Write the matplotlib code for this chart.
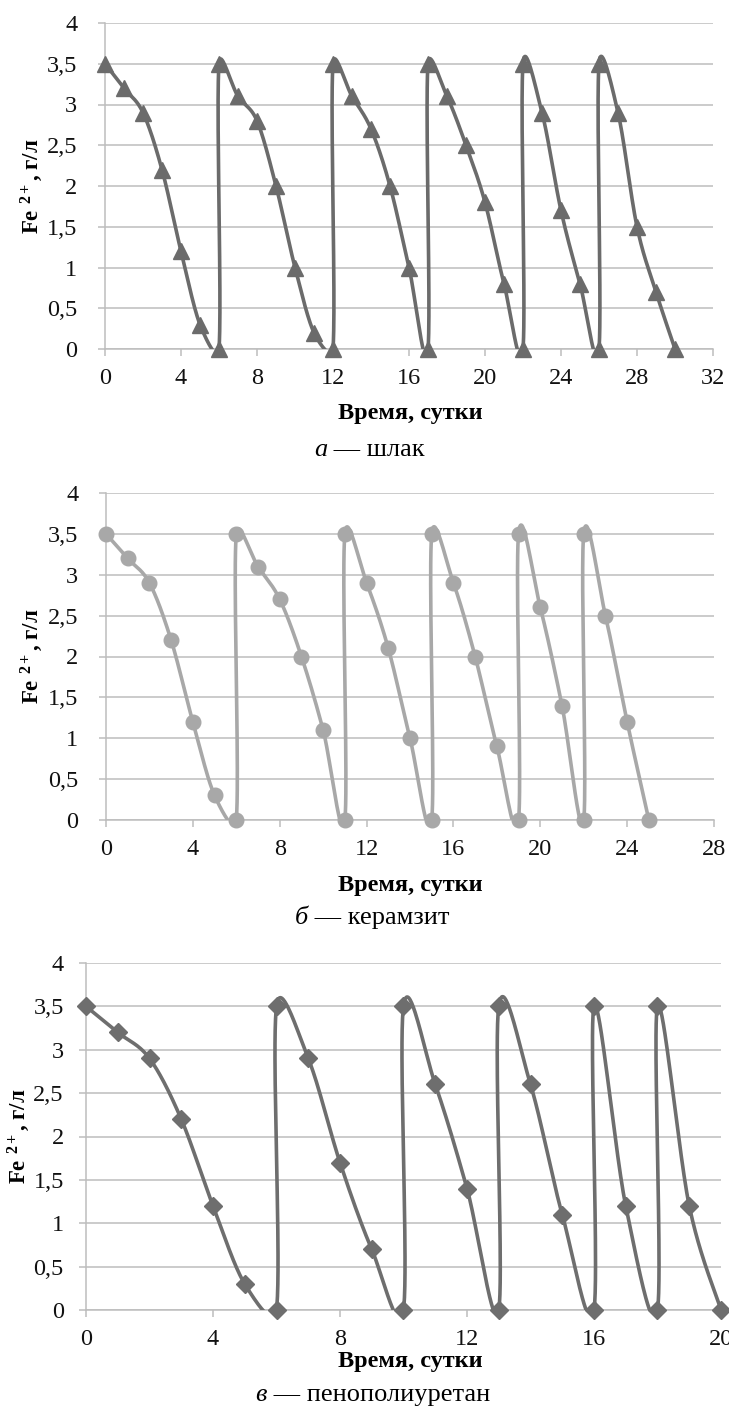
import numpy as np
import matplotlib
matplotlib.use("Agg")
import matplotlib.pyplot as plt

plt.rcParams['font.family'] = ['Liberation Serif', 'DejaVu Serif']
plt.rcParams['mathtext.fontset'] = 'custom'
plt.rcParams['mathtext.rm'] = 'Liberation Serif:bold'
plt.rcParams['mathtext.it'] = 'Liberation Serif:bold'
plt.rcParams['mathtext.bf'] = 'Liberation Serif:bold'

# ---- data ----
slag_days = [0, 1, 2, 3, 4, 5, 6, 6, 7, 8, 9, 10, 11, 12, 12, 13, 14, 15, 16, 17,
             17, 18, 19, 20, 21, 22, 22, 23, 24, 25, 26, 26, 27, 28, 29, 30]
slag_fe = [3.5, 3.2, 2.9, 2.2, 1.2, 0.3, 0, 3.5, 3.1, 2.8, 2.0, 1.0, 0.2, 0,
           3.5, 3.1, 2.7, 2.0, 1.0, 0, 3.5, 3.1, 2.5, 1.8, 0.8, 0,
           3.5, 2.9, 1.7, 0.8, 0, 3.5, 2.9, 1.5, 0.7, 0]

keramzit_days = [0, 1, 2, 3, 4, 5, 6, 6, 7, 8, 9, 10, 11, 11, 12, 13, 14, 15,
                 15, 16, 17, 18, 19, 19, 20, 21, 22, 22, 23, 24, 25]
keramzit_fe = [3.5, 3.2, 2.9, 2.2, 1.2, 0.3, 0, 3.5, 3.1, 2.7, 2.0, 1.1, 0,
               3.5, 2.9, 2.1, 1.0, 0, 3.5, 2.9, 2.0, 0.9, 0, 3.5, 2.6, 1.4, 0,
               3.5, 2.5, 1.2, 0]

ppu_days = [0, 1, 2, 3, 4, 5, 6, 6, 7, 8, 9, 10, 10, 11, 12, 13, 13, 14, 15, 16,
            16, 17, 18, 18, 19, 20]
ppu_fe = [3.5, 3.2, 2.9, 2.2, 1.2, 0.3, 0, 3.5, 2.9, 1.7, 0.7, 0, 3.5, 2.6, 1.4, 0,
          3.5, 2.6, 1.1, 0, 3.5, 1.2, 0, 3.5, 1.2, 0]

y_ticks = [0, 0.5, 1, 1.5, 2, 2.5, 3, 3.5, 4]
y_tick_labels = ['0', '0,5', '1', '1,5', '2', '2,5', '3', '3,5', '4']
xlabel_text = 'Время, сутки'
ylabel_text = r'Fe $^{2+}$, г/л'
captions = [('а', ' — шлак'), ('б', ' — керамзит'), ('в', ' — пенополиуретан')]


def smooth(x, y, sx, sy, n=40, limit=0.5):
    """Excel-like smoothed line: Catmull-Rom Bezier computed in pixel space,
    with control arms limited relative to the segment length."""
    P = np.column_stack([np.asarray(x, float) * sx, np.asarray(y, float) * sy])
    out = [P[0]]
    t = np.linspace(0, 1, n)[1:, None]
    for i in range(len(P) - 1):
        p0 = P[i - 1] if i > 0 else P[i]
        p1, p2 = P[i], P[i + 1]
        p3 = P[i + 2] if i + 2 < len(P) else P[i + 1]
        seglen = np.hypot(*(p2 - p1))
        a1 = (p2 - p0) / 6.0
        a2 = (p3 - p1) / 6.0
        for a in (a1, a2):
            L = np.hypot(*a)
            if L > limit * seglen and L > 0:
                a *= limit * seglen / L
        c1 = p1 + a1
        c2 = p2 - a2
        seg = ((1 - t) ** 3) * p1 + 3 * ((1 - t) ** 2) * t * c1 + 3 * (1 - t) * t ** 2 * c2 + t ** 3 * p2
        out.extend(seg)
    out = np.array(out)
    return out[:, 0] / sx, out[:, 1] / sy


W, H = 729, 1407
fig = plt.figure(figsize=(W / 100, H / 100), dpi=100)


def fx(px):
    return px / W


def fy(py):
    return 1 - py / H


panels = [
    dict(days=slag_days, fe=slag_fe, color='#6b6b6b', marker='^', ms=11.5,
         box=(105, 23, 713, 349), xmax=32, xlab_y=413, cap_y=450, cap_x=327,
         ylab_x=32, ypad=15),
    dict(days=keramzit_days, fe=keramzit_fe, color='#a8a8a8', marker='o', ms=10.5,
         box=(106, 493, 714, 820), xmax=28, xlab_y=885, cap_y=918, cap_x=308,
         ylab_x=32, ypad=15),
    dict(days=ppu_days, fe=ppu_fe, color='#6e6e6e', marker='D', ms=9.5,
         box=(86, 963, 721, 1310), xmax=20, xlab_y=1362, cap_y=1395, cap_x=267,
         ylab_x=19, ypad=11),
]

grid_c = '#bdbdbd'
for i, p in enumerate(panels):
    l, t, r, b = p['box']
    ax = fig.add_axes([fx(l), fy(b), fx(r - l), fy(t) - fy(b)])
    sx = (r - l) / p['xmax']
    sy = (b - t) / 4.0
    xs, ys = smooth(p['days'], p['fe'], sx, sy)
    ax.plot(xs, ys, color=p['color'], lw=2.6, clip_on=True, zorder=3)
    ax.plot(p['days'], p['fe'], linestyle='none', marker=p['marker'], ms=p['ms'],
            color=p['color'], clip_on=False, zorder=4)
    ax.set_xlim(0, p['xmax'])
    ax.set_ylim(0, 4)
    ax.set_xticks(np.arange(0, p['xmax'] + 1, 4))
    ax.set_yticks(y_ticks)
    ax.set_yticklabels(y_tick_labels)
    ax.grid(axis='y', color=grid_c, lw=1.1)
    ax.set_axisbelow(True)
    for s in ['top', 'right']:
        ax.spines[s].set_visible(False)
    for s in ['left', 'bottom']:
        ax.spines[s].set_color(grid_c)
        ax.spines[s].set_linewidth(1.1)
    ax.tick_params(axis='both', direction='out', length=5, width=1.1, color=grid_c,
                   labelsize=17.5, labelcolor='#111111')
    ax.tick_params(axis='x', pad=9)
    ax.tick_params(axis='y', pad=p['ypad'])
    fig.text(fx(p['ylab_x']), fy((t + b) / 2), ylabel_text, rotation=90,
             ha='center', va='center', fontsize=16.5, fontweight='bold')
    fig.text(fx(410), fy(p['xlab_y']), xlabel_text, ha='center', va='center',
             fontsize=17.5, fontweight='bold')
    it, rest = captions[i]
    fig.text(fx(p['cap_x']), fy(p['cap_y']), it, ha='right', va='center',
             fontsize=19, style='italic')
    fig.text(fx(p['cap_x']), fy(p['cap_y']), rest, ha='left', va='center', fontsize=19)

fig.savefig('out.png', dpi=100)
